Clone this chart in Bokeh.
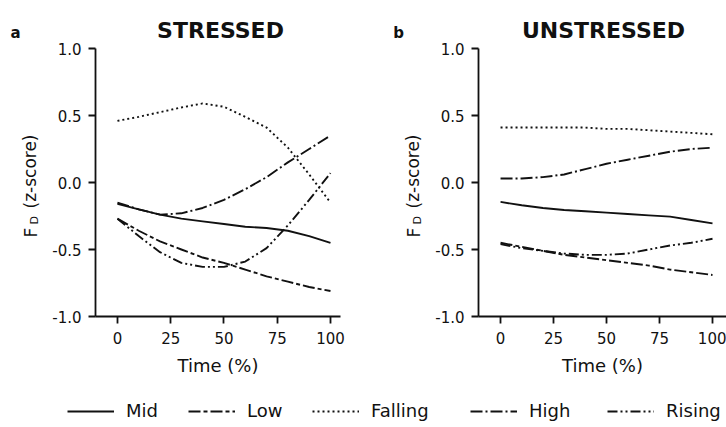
from bokeh.plotting import figure
from bokeh.layouts import column, row
from bokeh.models import Label, Legend, LegendItem, FixedTicker, Range1d, LinearAxis
from bokeh.embed import file_html
from bokeh.resources import INLINE

# ---------------- data ----------------
time_pct = [0, 10, 20, 30, 40, 50, 60, 70, 80, 90, 100]

stressed_mid = [-0.16, -0.20, -0.24, -0.27, -0.29, -0.31, -0.33, -0.34, -0.36, -0.40, -0.45]
stressed_low = [-0.27, -0.36, -0.44, -0.50, -0.56, -0.60, -0.65, -0.70, -0.74, -0.78, -0.81]
stressed_falling = [0.46, 0.49, 0.525, 0.56, 0.59, 0.565, 0.49, 0.41, 0.26, 0.06, -0.15]
stressed_high = [-0.15, -0.20, -0.24, -0.23, -0.19, -0.13, -0.05, 0.04, 0.15, 0.25, 0.35]
stressed_rising = [-0.27, -0.40, -0.52, -0.60, -0.63, -0.63, -0.59, -0.49, -0.32, -0.13, 0.07]

unstressed_mid = [-0.145, -0.17, -0.19, -0.205, -0.215, -0.225, -0.235, -0.245, -0.255, -0.28, -0.305]
unstressed_low = [-0.45, -0.48, -0.51, -0.54, -0.56, -0.58, -0.60, -0.62, -0.65, -0.67, -0.69]
unstressed_falling = [0.41, 0.41, 0.41, 0.41, 0.41, 0.40, 0.40, 0.39, 0.38, 0.37, 0.36]
unstressed_high = [0.03, 0.03, 0.04, 0.06, 0.10, 0.14, 0.17, 0.20, 0.23, 0.25, 0.26]
unstressed_rising = [-0.46, -0.49, -0.51, -0.53, -0.54, -0.54, -0.53, -0.50, -0.47, -0.45, -0.42]

series_names = ["Mid", "Low", "Falling", "High", "Rising"]
x_ticks = [0, 25, 50, 75, 100]
y_ticks = [-1.0, -0.5, 0.0, 0.5, 1.0]
y_tick_labels = ["-1.0", "-0.5", "0.0", "0.5", "1.0"]
panel_letters = ["a", "b"]
panel_titles = ["STRESSED", "UNSTRESSED"]
x_label = "Time (%)"

# ---------------- styles ----------------
FONT = "DejaVu Sans"
INK = "#111111"
DASHES = {"Mid": "solid", "Low": "12 3 4 3", "Falling": "2 3",
          "High": "12 3 2 3", "Rising": "10 3 2 3 2 3"}
LW = 1.9

AX_TOP = 48        # pixel row of y = 1.0
AX_BOTTOM = 316    # pixel row of y = -1.0
PLOT_H = 385
Y_MIN, Y_MAX = -1.0, 1.0


def make_panel(width, ax_left, ax_right, xr, letter, title, data):
    # the frame fills the whole figure; the axes sit inside it at fixed positions
    ux = (xr[1] - xr[0]) / (ax_right - ax_left)        # data units per pixel (x)
    uy = (Y_MAX - Y_MIN) / (AX_BOTTOM - AX_TOP)         # data units per pixel (y)
    def dx(px):
        return xr[0] + (px - ax_left) * ux
    def dy(py):
        return Y_MAX - (py - AX_TOP) * uy

    p = figure(width=width, height=PLOT_H, output_backend="svg", toolbar_location=None,
               x_range=Range1d(dx(0), dx(width)), y_range=Range1d(dy(PLOT_H), dy(0)),
               x_axis_location=None, y_axis_location=None,
               min_border=0, min_border_left=0, min_border_right=0,
               min_border_top=0, min_border_bottom=0)
    p.outline_line_color = None
    p.grid.visible = False
    p.background_fill_color = "white"
    p.border_fill_color = "white"

    xax = LinearAxis(fixed_location=Y_MIN, bounds=xr, ticker=FixedTicker(ticks=x_ticks))
    yax = LinearAxis(fixed_location=xr[0], bounds=(Y_MIN, Y_MAX),
                     ticker=FixedTicker(ticks=y_ticks),
                     major_label_overrides={t: s for t, s in zip(y_ticks, y_tick_labels)})
    for ax in (xax, yax):
        ax.axis_line_color = INK
        ax.axis_line_width = 1.8
        ax.major_tick_line_color = INK
        ax.major_tick_line_width = 1.8
        ax.major_tick_out = 7
        ax.major_tick_in = 0
        ax.minor_tick_line_color = None
        ax.major_label_text_font = FONT
        ax.major_label_text_font_size = "15px"
        ax.major_label_text_color = INK
    xax.major_label_standoff = 8
    yax.major_label_standoff = 7
    xax.axis_label = x_label
    xax.axis_label_text_font = FONT
    xax.axis_label_text_font_size = "18px"
    xax.axis_label_text_font_style = "normal"
    xax.axis_label_text_color = INK
    xax.axis_label_standoff = 8
    p.add_layout(xax, "below")
    p.add_layout(yax, "left")

    for name, ys in zip(series_names, data):
        p.line(time_pct, ys, line_color=INK, line_width=LW, line_dash=DASHES[name])

    def lab(px, py, text, size, style="normal", angle=0.0, align="center", baseline="middle"):
        p.add_layout(Label(x=dx(px), y=dy(py), text=text, angle=angle, text_font=FONT,
                           text_font_size=size, text_font_style=style, text_color=INK,
                           text_align=align, text_baseline=baseline))

    lab(ax_left - 80, 32, letter, "15px", "bold")
    lab(ax_left + 125, 30, title, "22px", "bold")
    bx = ax_left - 65
    lab(bx, 237, "F", "17px", angle=1.5708, align="left", baseline="alphabetic")
    lab(bx + 4, 224, "D", "11px", angle=1.5708, align="left", baseline="alphabetic")
    lab(bx, 208, "(z-score)", "17px", angle=1.5708, align="left", baseline="alphabetic")
    return p


p1 = make_panel(370, 95, 340, (-10.3, 104.7), panel_letters[0], panel_titles[0],
                [stressed_mid, stressed_low, stressed_falling, stressed_high, stressed_rising])
p2 = make_panel(356, 108, 356, (-10.4, 106.6), panel_letters[1], panel_titles[1],
                [unstressed_mid, unstressed_low, unstressed_falling, unstressed_high, unstressed_rising])

# ---------------- legend strip ----------------
# the strip's ranges lie outside the data, so its lines only show as legend keys
leg = figure(width=726, height=427 - PLOT_H, output_backend="svg", toolbar_location=None,
             x_range=Range1d(500, 501), y_range=Range1d(500, 501),
             min_border=0, min_border_left=0, min_border_right=0,
             min_border_top=0, min_border_bottom=0)
leg.axis.visible = False
leg.grid.visible = False
leg.outline_line_color = None
leg.border_fill_color = "white"
leg.background_fill_color = "white"

legend_x = [67, 188, 312, 470, 607]
stressed_all = [stressed_mid, stressed_low, stressed_falling, stressed_high, stressed_rising]
for name, ys, lx in zip(series_names, stressed_all, legend_x):
    r = leg.line(time_pct, ys, line_color=INK, line_width=LW, line_dash=DASHES[name])
    lg = Legend(items=[LegendItem(label=name, renderers=[r])], location=(lx, 6),
                orientation="horizontal", padding=0, margin=0, spacing=0,
                glyph_width=47, glyph_height=20, label_standoff=12,
                label_text_font=FONT, label_text_font_size="18px", label_text_color=INK,
                border_line_color=None, background_fill_alpha=0)
    leg.add_layout(lg)

layout = column(row(p1, p2), leg)
open("out.html", "w").write(file_html(layout, INLINE))
